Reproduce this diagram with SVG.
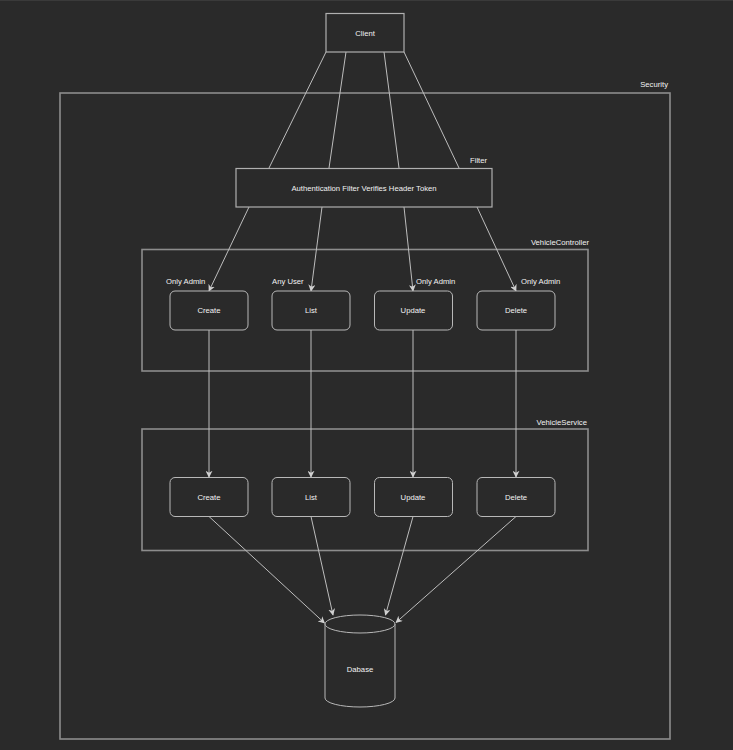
<svg xmlns="http://www.w3.org/2000/svg" width="733" height="750" viewBox="0 0 733 750">
<defs>
<style>
text{font-family:"Liberation Sans",Arial,sans-serif;font-size:7.7px;fill:#f2f2f2}
.c{text-anchor:middle;dominant-baseline:central}
.box{fill:#2a2a2a;stroke:#b0b0b0;stroke-width:1.2}
.grp{fill:none;stroke:#8c8c8c;stroke-width:1.6}
.node{fill:#2a2a2a;stroke:#b8b8b8;stroke-width:1}
.e{fill:none;stroke:#bdbdbd;stroke-width:1}
.ea{fill:none;stroke:#bdbdbd;stroke-width:1;marker-end:url(#arr)}
</style>
<marker id="arr" viewBox="0 0 10 10" refX="9" refY="5" markerWidth="7" markerHeight="7" markerUnits="userSpaceOnUse" orient="auto">
<path d="M0,0 L10,5 L0,10 L3,5 Z" fill="#d0d0d0"/>
</marker>
</defs>
<rect width="733" height="750" fill="#2a2a2a"/>
<line x1="0" y1="0.5" x2="733" y2="0.5" stroke="#3a3a3a"/>

<g id="security">
<rect class="grp" x="60" y="93" width="610" height="646"/>
<text x="668" y="87" text-anchor="end">Security</text>
</g>
<g id="vehicle-controller">
<rect class="grp" x="142" y="249.5" width="446" height="121.5"/>
<text x="589" y="245" text-anchor="end">VehicleController</text>
</g>
<g id="vehicle-service">
<rect class="grp" x="142" y="429" width="446" height="121.5"/>
<text x="587" y="425" text-anchor="end">VehicleService</text>
</g>

<g id="connectors">
<line class="e" x1="326" y1="52" x2="269" y2="168"/>
<line class="e" x1="346" y1="52" x2="329" y2="168"/>
<line class="e" x1="384" y1="52" x2="399" y2="168"/>
<line class="e" x1="404" y1="52" x2="459" y2="168"/>
<line class="ea" x1="249" y1="207" x2="209" y2="291"/>
<line class="ea" x1="322" y1="207" x2="311" y2="291"/>
<line class="ea" x1="404" y1="207" x2="413" y2="291"/>
<line class="ea" x1="477" y1="207" x2="516" y2="291"/>
<line class="ea" x1="209" y1="330" x2="209" y2="477"/>
<line class="ea" x1="311" y1="330" x2="311" y2="477"/>
<line class="ea" x1="413" y1="330" x2="413" y2="477"/>
<line class="ea" x1="516" y1="330" x2="516" y2="477"/>
<line class="ea" x1="209" y1="516.5" x2="324.5" y2="623"/>
<line class="ea" x1="311" y1="516.5" x2="333" y2="615"/>
<line class="ea" x1="413" y1="516.5" x2="385.5" y2="615"/>
<line class="ea" x1="516" y1="516.5" x2="396" y2="622.5"/>
</g>

<g id="client">
<rect class="box" x="326" y="13.5" width="78" height="38.5"/>
<text class="c" x="365" y="33">Client</text>
</g>
<g id="filter">
<rect class="box" x="236" y="168.5" width="256" height="38.5"/>
<text class="c" x="364" y="188">Authentication Filter Verifies Header Token</text>
<text x="470" y="163">Filter</text>
</g>

<g id="ctrl-create">
<rect class="node" x="170" y="291" width="78" height="39" rx="5"/>
<text class="c" x="209" y="310.5">Create</text>
<text x="166" y="284">Only Admin</text>
</g>
<g id="ctrl-list">
<rect class="node" x="272" y="291" width="78" height="39" rx="5"/>
<text class="c" x="311" y="310.5">List</text>
<text x="272" y="284">Any User</text>
</g>
<g id="ctrl-update">
<rect class="node" x="374.5" y="291" width="78" height="39" rx="5"/>
<text class="c" x="413" y="310.5">Update</text>
<text x="416" y="284">Only Admin</text>
</g>
<g id="ctrl-delete">
<rect class="node" x="477" y="291" width="78" height="39" rx="5"/>
<text class="c" x="516" y="310.5">Delete</text>
<text x="521" y="284">Only Admin</text>
</g>

<g id="svc-create">
<rect class="node" x="170" y="477.5" width="78" height="39" rx="5"/>
<text class="c" x="209" y="497">Create</text>
</g>
<g id="svc-list">
<rect class="node" x="272" y="477.5" width="78" height="39" rx="5"/>
<text class="c" x="311" y="497">List</text>
</g>
<g id="svc-update">
<rect class="node" x="374.5" y="477.5" width="78" height="39" rx="5"/>
<text class="c" x="413" y="497">Update</text>
</g>
<g id="svc-delete">
<rect class="node" x="477" y="477.5" width="78" height="39" rx="5"/>
<text class="c" x="516" y="497">Delete</text>
</g>

<g id="database">
<path class="node" d="M325,624 L325,698 A35,9 0 0 0 395,698 L395,624 A35,9 0 0 0 325,624 Z"/>
<path class="node" d="M325,624 A35,9 0 0 0 395,624" fill="none"/>
<text class="c" x="360" y="669">Dabase</text>
</g>
</svg>
